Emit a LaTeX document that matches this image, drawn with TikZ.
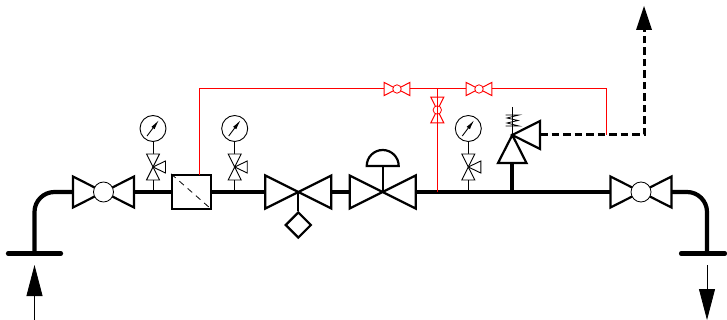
\documentclass[tikz,border=0pt]{standalone}
\usepackage{amsmath}
\usetikzlibrary{arrows.meta,%
                shapes.geometric}

\tikzset{pipe/.style = {line width=4.2pt},
         flange/.style = {line width=4.2pt, line cap=round},
         heavy/.style = {line width=2.2pt, line join=miter},
         vent/.style = {line width=3pt, dash pattern=on 7.5pt off 4pt},
         redline/.style = {color=red, line width=1pt},
         flow/.style = {line width=.8pt, -{Triangle[length=31pt,width=16pt]}},
         ventflow/.style = {-{Triangle[length=24pt,width=16pt,line width=0pt]}},
         ballvalve/.pic = {
           \coordinate (-left) at (-30.5,0);
           \coordinate (-right) at (30.5,0);
           \draw[fill=white] (-30.5,-15.5) -- (30.5,15.5) -- (30.5,-15.5) -- (-30.5,15.5) -- cycle;
           \draw[fill=white, line width=.8pt] (0,0) circle (10);
         },
         gatevalve/.pic = {
           \coordinate (-left) at (-33,0);
           \coordinate (-right) at (33,0);
           \coordinate (-hub) at (0,0);
           \draw[heavy, fill=white] (-33,-16.5) -- (33,16.5) -- (33,-16.5) -- (-33,16.5) -- cycle;
         },
         gaugetap/.pic = {
           \node[draw, circle, minimum size=26pt, inner sep=0, line width=.9pt] (-dial) at (0,-63.5) {};
           \draw[line width=.9pt, -{Latex[length=10pt,width=4pt]}] (-6,-56) -- (6,-72);
           \draw[line width=.9pt] (-dial) ++(0,13) -- (0,-38) (0,-12) -- (0,0);
           \draw[line width=.9pt, fill=white] (-6.5,-38) -- (6.5,-38) -- (-6.5,-12) -- (6.5,-12) -- cycle;
           \draw[line width=.9pt, fill=white] (0,-25) -- (12.5,-31) -- (12.5,-19) -- cycle;
         }}

\begin{document}
\begin{tikzpicture}[x=1pt, y=-1pt]
\useasboundingbox (0,0) rectangle (727,320);

\coordinate (inFlange) at (34.5,253.5);
\coordinate (outFlange) at (707,253.5);
\coordinate (redTap) at (199.5,175);
\coordinate (redTop) at (199.5,89);
\coordinate (redTee) at (437.3,89);
\coordinate (redMain) at (437.3,192);
\coordinate (redEnd) at (606.5,89);
\coordinate (redVent) at (606.5,135);
\coordinate (reliefApex) at (512.3,135);
\coordinate (reliefIn) at (512.3,163);
\coordinate (reliefMain) at (512.3,192);
\coordinate (reliefOut) at (540,135);
\coordinate (ventTop) at (644,6);
\coordinate (ventCorner) at (644,135);

% gauges first, they sit behind the main line
\pic at (153,192) {gaugetap};
\pic at (234.7,192) {gaugetap};
\pic at (468.3,192) {gaugetap};

\node[draw, heavy, fill=white, minimum width=39pt, minimum height=34pt, inner sep=0] (filterBox) at (191.7,192) {};
\draw[line width=.8pt, dash pattern=on 6pt off 5pt] (filterBox.north west) -- (filterBox.south east);

\pic[heavy] (valveIn) at (103.5,192) {ballvalve};
\pic[heavy] (valveOut) at (641,192) {ballvalve};
\pic (valveFilter) at (298.3,192) {gatevalve};
\pic (valveControl) at (382.7,192) {gatevalve};

% main line
\draw[pipe, rounded corners=20pt] (inFlange) |- (valveIn-left);
\draw[pipe] (valveIn-right) -- (filterBox.west);
\draw[pipe] (filterBox.east) -- (valveFilter-left);
\draw[pipe] (valveFilter-right) -- (valveControl-left);
\draw[pipe] (valveControl-right) -- (valveOut-left);
\draw[pipe, rounded corners=20pt] (valveOut-right) -| (outFlange);
\draw[flange] (8,253.5) -- (61,253.5);
\draw[flange] (681,253.5) -- (725,253.5);

% flow arrows
\coordinate (inStart) at (34.5,320);
\coordinate (inTip) at (34.5,265);
\coordinate (outStart) at (707,265);
\coordinate (outTip) at (707,320);
\draw[flow] (inStart) -- (inTip);
\draw[flow] (outStart) -- (outTip);

% strainer and actuator
\node[draw, heavy, diamond, minimum size=26pt, inner sep=0] (strainer) at (298.3,225) {};
\draw[heavy] (valveFilter-hub) -- (strainer);
\coordinate (domeBase) at (382.7,166);
\draw[heavy] (valveControl-hub) -- (domeBase);
\draw[heavy] (366.7,166) arc[start angle=180, end angle=0, radius=16pt] -- cycle;

% relief valve
\draw[pipe] (reliefIn) -- (reliefMain);
\draw[heavy, fill=white] (reliefApex) -- (498,163) -- (526.5,163) -- cycle;
\draw[heavy, fill=white] (reliefApex) -- (540,121) -- (540,149) -- cycle;
\draw[line width=.8pt] (512.3,107) -- (reliefApex);
\draw[line width=.8pt] (505.5,115) -- (519,115) -- (507,118) -- (518,120.5) -- (507,123) -- (519,126) -- (505.5,126);
\draw[vent] (reliefOut) -- (ventCorner) -- (644,30);
\draw[ventflow, line width=.7pt] (644,32) -- (ventTop);

% red impulse lines
\pic[redline, scale=.42] (redA) at (397,89) {ballvalve};
\pic[redline, scale=.42] (redB) at (479,89) {ballvalve};
\pic[redline, scale=.42, rotate=90] (redC) at (437.3,110) {ballvalve};
\draw[redline] (redTap) -- (redTop) -- (redA-left);
\draw[redline] (redA-right) -- (redTee);
\draw[redline] (redTee) -- (redB-left);
\draw[redline] (redB-right) -- (redEnd) -- (redVent);
\draw[redline] (redTee) -- (redC-left);
\draw[redline] (redC-right) -- (redMain);
\end{tikzpicture}
\end{document}
